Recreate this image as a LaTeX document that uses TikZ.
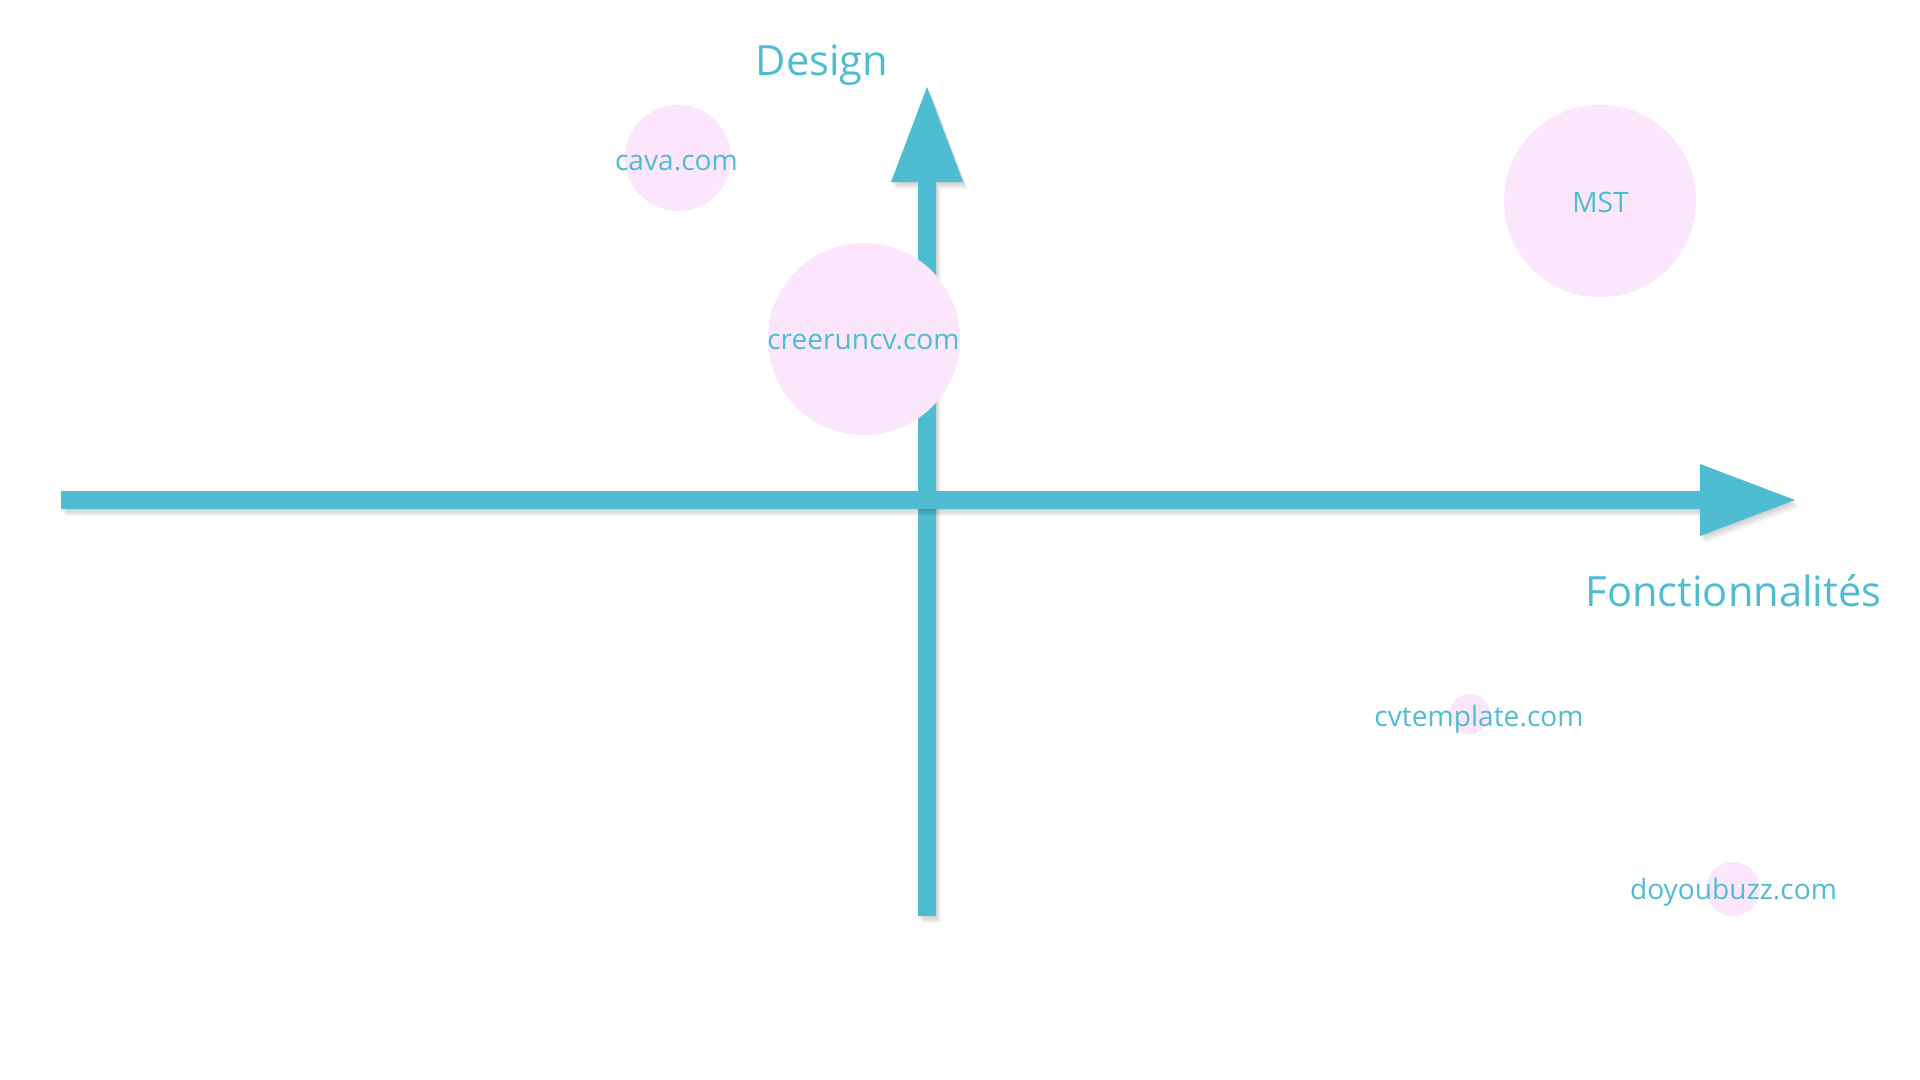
\documentclass[tikz,border=0pt]{standalone}
\usepackage{fontspec}
\setmainfont{Open Sans}
\usetikzlibrary{arrows.meta}
\definecolor{axisblue}{RGB}{79,189,209}
\definecolor{bubblepink}{RGB}{252,230,252}
\begin{document}
\begin{tikzpicture}[
            x = 0.01cm, y = -0.01cm,
            axis/.style = {draw = axisblue, line width = 0.18cm,
                           -{Triangle[length = 0.95cm, width = 0.72cm, line width = 0pt]}},
            axis shadow/.style = {draw = black, opacity = 0.03, line width = 0.18cm,
                           -{Triangle[length = 0.95cm, width = 0.72cm, line width = 0pt]}},
            bubble/.style = {circle, fill = bubblepink, inner sep = 0pt},
            site/.style = {text = axisblue, anchor = base, inner sep = 0pt,
                           font = \fontsize{8pt}{10pt}\selectfont},
            axis label/.style = {text = axisblue, anchor = base, inner sep = 0pt,
                           font = \fontsize{11.85pt}{14pt}\selectfont}
            ]
            \fill[white] (0,0) rectangle (1920,1080);
            \useasboundingbox (0,0) rectangle (1920,1080);
            \coordinate (ybot) at (927,916);
            \coordinate (ytop) at (927,87);
            \coordinate (xleft) at (61,500);
            \coordinate (xright) at (1795,500);
            \foreach \d in {1,...,6}
              \draw[axis shadow, transform canvas = {shift = {(\d*0.8, \d*1.2)}}] (ybot) -- (ytop);
            \draw[axis] (ybot) -- (ytop);
            \foreach \d in {1,...,6}
              \draw[axis shadow, transform canvas = {shift = {(\d*0.8, \d*1.2)}}] (xleft) -- (xright);
            \draw[axis] (xleft) -- (xright);
            \node[bubble, minimum size = 1.06cm] (cavaDot) at (678,158) {};
            \node[bubble, minimum size = 1.92cm] (creeruncvDot) at (864,339) {};
            \node[bubble, minimum size = 1.92cm] (mstDot) at (1600,201) {};
            \node[bubble, minimum size = 0.40cm] (cvtemplateDot) at (1470,714) {};
            \node[bubble, minimum size = 0.54cm] (doyoubuzzDot) at (1733,889) {};
            \node[axis label] (design) at (822,76) {Design};
            \node[axis label] (fonct) at (1733.5,607) {Fonctionnalités};
            \node[site] (cava) at (676.5,171) {cava.com};
            \node[site] (creeruncv) at (863.5,350) {creeruncv.com};
            \node[site] (mst) at (1600.5,213) {MST};
            \node[site] (cvtemplate) at (1479,727) {cvtemplate.com};
            \node[site] (doyoubuzz) at (1733.5,900) {doyoubuzz.com};
          \end{tikzpicture}
\end{document}
